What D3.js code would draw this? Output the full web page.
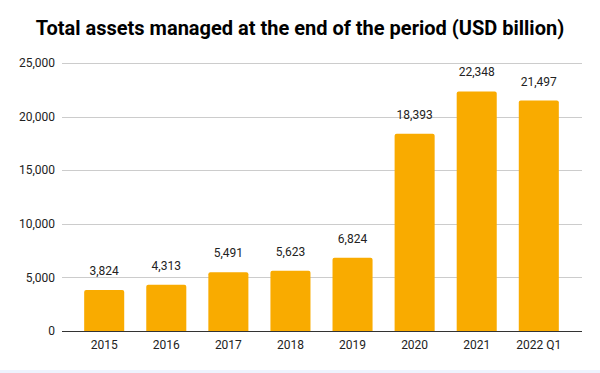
<!DOCTYPE html>
<html>
<head>
<meta charset="utf-8">
<script src="https://cdn.jsdelivr.net/npm/d3@7"></script>
<style>
  body { margin: 0; background: #fff; }
  svg { display: block; font-family: Roboto, "Noto Sans", sans-serif; }
</style>
</head>
<body>
<svg id="chart"></svg>
<script>
// data
var periods = ['2015', '2016', '2017', '2018', '2019', '2020', '2021', '2022 Q1']
var assets = [3824, 4313, 5491, 5623, 6824, 18393, 22348, 21497]
var yTicks = [0, 5000, 10000, 15000, 20000, 25000]

var width = 600,
    height = 373

var svg = d3.select('#chart')
            .attr('width', width)
            .attr('height', height)

// thin strip at the bottom of the page
svg.append('rect')
   .attr('x', 0).attr('y', 370)
   .attr('width', width).attr('height', 3)
   .attr('fill', '#eef3fd')

svg.append('text')
   .attr('x', 300)
   .attr('y', 35)
   .attr('text-anchor', 'middle')
   .style('font-size', '20px')
   .style('font-weight', 'bold')
   .attr('fill', '#000')
   .text('Total assets managed at the end of the period (USD billion)')

var x = d3.scaleBand()
    .domain(periods)
    .range([73, 570])
    .paddingInner(0.355)
    .paddingOuter(0.18)

var y = d3.scaleLinear()
    .domain([0, 25000])
    .range([331, 63])

// gridlines
svg.append('g')
   .selectAll('line')
   .data(yTicks.filter(d => d > 0))
   .enter()
   .append('line')
   .attr('x1', 62).attr('x2', 582)
   .attr('y1', d => Math.round(y(d)) + 0.5)
   .attr('y2', d => Math.round(y(d)) + 0.5)
   .attr('stroke', '#cccccc')
   .attr('stroke-width', 1)

// y tick labels
svg.append('g')
   .selectAll('text')
   .data(yTicks)
   .enter()
   .append('text')
   .attr('x', 55)
   .attr('y', d => y(d))
   .attr('dy', '0.35em')
   .attr('text-anchor', 'end')
   .style('font-size', '12px')
   .attr('fill', '#222')
   .text(d => d3.format(',')(d))

var data = periods.map((p, i) => ({period: p, value: assets[i]}))

var bars = svg.append('g')
   .selectAll('path')
   .data(data)
   .enter()

// bars with slightly rounded tops
bars.append('path')
   .attr('fill', '#f9ab00')
   .attr('d', function(d) {
     var x0 = x(d.period), w = x.bandwidth(), y0 = y(d.value), y1 = y(0), r = 2
     return `M${x0},${y1}V${y0 + r}Q${x0},${y0} ${x0 + r},${y0}H${x0 + w - r}Q${x0 + w},${y0} ${x0 + w},${y0 + r}V${y1}Z`
   })

// value labels
bars.append('text')
   .attr('x', d => x(d.period) + x.bandwidth() / 2)
   .attr('y', d => y(d.value) - 15)
   .attr('text-anchor', 'middle')
   .style('font-size', '12px')
   .attr('fill', '#222')
   .text(d => d3.format(',')(d.value))

// baseline
svg.append('line')
   .attr('x1', 62).attr('x2', 582)
   .attr('y1', 331.5).attr('y2', 331.5)
   .attr('stroke', '#333')
   .attr('stroke-width', 1)

// x labels
svg.append('g')
   .selectAll('text')
   .data(periods)
   .enter()
   .append('text')
   .attr('x', d => x(d) + x.bandwidth() / 2)
   .attr('y', 345)
   .attr('dy', '0.35em')
   .attr('text-anchor', 'middle')
   .style('font-size', '12px')
   .attr('fill', '#222')
   .text(d => d)
</script>
</body>
</html>
